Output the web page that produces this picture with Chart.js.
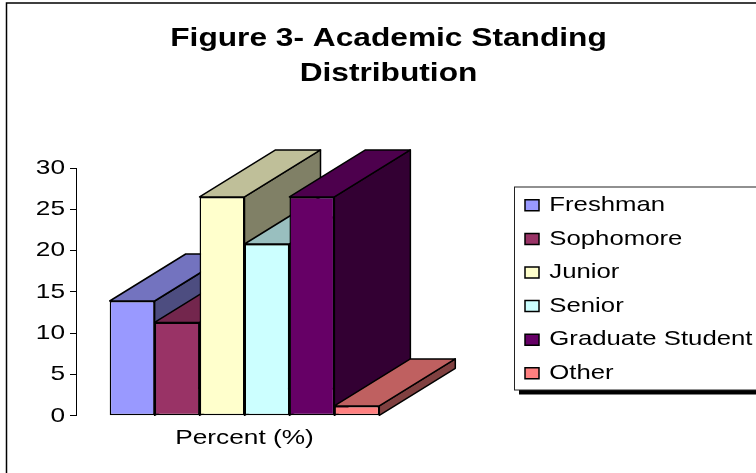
<!DOCTYPE html>
<html>
<head>
<meta charset="utf-8">
<style>
  html, body { margin: 0; padding: 0; background: #fff; overflow: hidden; }
  canvas { display: block; }
</style>
<script src="https://cdn.jsdelivr.net/npm/chart.js@4"></script>
</head>
<body>
<canvas id="myChart" width="756" height="473"></canvas>
<script>
const categories = ["Percent (%)"];
const seriesNames = ["Freshman", "Sophomore", "Junior", "Senior", "Graduate Student", "Other"];
const seriesValues = [13.9, 11.3, 26.5, 20.8, 26.5, 1.2];
const seriesColors = ["#9999FF", "#993366", "#FFFFCC", "#CCFFFF", "#660066", "#FF8080"];

const depthX = 76;
const depthY = 47;
const textStretch = 1.25; // the text in the picture is wider than the font

const shade = (hex, k) => {
  const n = parseInt(hex.slice(1), 16);
  const r = Math.round(((n >> 16) & 255) * k);
  const g = Math.round(((n >> 8) & 255) * k);
  const b = Math.round((n & 255) * k);
  return "rgb(" + r + "," + g + "," + b + ")";
};

const ctx = document.getElementById("myChart").getContext("2d");
const fillText = ctx.fillText.bind(ctx);
const measureText = ctx.measureText.bind(ctx);
ctx.fillText = (text, x, y) => {
  ctx.save();
  ctx.translate(x, y);
  ctx.scale(textStretch, 1);
  fillText(text, 0, 0);
  ctx.restore();
};
ctx.measureText = (text) => ({ width: measureText(text).width * textStretch });

const face = (c, points, color) => {
  c.beginPath();
  points.forEach((p, i) => (i ? c.lineTo(p[0], p[1]) : c.moveTo(p[0], p[1])));
  c.closePath();
  c.fillStyle = color;
  c.fill();
  c.stroke();
};

const placement = {
  id: "placement",
  afterLayout: (chart) => {
    chart.titleBlock.left = 0;
    chart.titleBlock.right = 777;
    const legend = chart.legend;
    legend.left = 525 - legend.options.labels.padding;
    legend.right = 756;
    legend.top = 195 - legend.options.labels.padding;
    legend.bottom = 440; // keeps all six entries in one column
  },
};

const frame = {
  id: "frame",
  beforeDraw: (chart) => {
    const c = chart.ctx;
    c.save();
    c.fillStyle = "#fff";
    c.fillRect(0, 0, 756, 473);
    c.strokeStyle = "#000";
    c.lineWidth = 1.5;
    c.beginPath();
    c.moveTo(756, 3);
    c.lineTo(6.5, 3);
    c.lineTo(6.5, 473);
    c.stroke();
    // legend box and its shadow
    c.fillStyle = "#000";
    c.fillRect(519, 390, 237, 4.5);
    c.lineWidth = 1;
    c.strokeStyle = "#222";
    c.strokeRect(514.5, 187, 260, 203);
    c.restore();
  },
};

const depth = {
  id: "depth",
  beforeDatasetsDraw: (chart) => {
    const c = chart.ctx;
    c.save();
    c.strokeStyle = "#000";
    c.lineWidth = 1.5;
    c.lineJoin = "round";
    chart.data.datasets.forEach((ds, i) => {
      const bar = chart.getDatasetMeta(i).data[0];
      const left = bar.x - bar.width / 2;
      const right = bar.x + bar.width / 2;
      face(c, [[right, bar.y], [right + depthX, bar.y - depthY], [right + depthX, bar.base - depthY], [right, bar.base]], shade(seriesColors[i], 0.5));
      face(c, [[left, bar.y], [left + depthX, bar.y - depthY], [right + depthX, bar.y - depthY], [right, bar.y]], shade(seriesColors[i], 0.75));
    });
    c.restore();
  },
};

new Chart(ctx, {
  type: "bar",
  data: {
    labels: categories,
    datasets: seriesNames.map((name, i) => ({
      label: name,
      data: [seriesValues[i]],
      backgroundColor: seriesColors[i],
      borderColor: "#000",
      borderWidth: 1.5,
      borderSkipped: false,
      categoryPercentage: 0.8,
      barPercentage: 1,
    })),
  },
  options: {
    responsive: false,
    animation: false,
    layout: { padding: { left: 0, right: 343, top: 0, bottom: 20 } },
    plugins: {
      tooltip: { enabled: false },
      title: {
        display: true,
        text: ["Figure 3- Academic Standing", "Distribution"],
        color: "#000",
        font: { family: "'Liberation Sans', Arial, sans-serif", size: 25.35, weight: "bold", lineHeight: 1.381 },
        padding: { top: 21, bottom: 77 },
      },
      legend: {
        position: "chartArea",
        align: "start",
        labels: {
          color: "#000",
          boxWidth: 14,
          boxHeight: 11,
          padding: 13,
          font: { family: "'Liberation Sans', Arial, sans-serif", size: 20.6 },
        },
      },
    },
    scales: {
      x: {
        grid: { display: false },
        border: { display: false },
        ticks: { color: "#000", padding: 2, font: { family: "'Liberation Sans', Arial, sans-serif", size: 21 } },
      },
      y: {
        min: 0,
        max: 30,
        afterFit: (scale) => {
          scale.width = 76;
        },
        grid: { drawOnChartArea: false, drawTicks: true, tickLength: 6, color: "#000" },
        border: { display: true, color: "#000" },
        ticks: { stepSize: 5, color: "#000", padding: 5, font: { family: "'Liberation Sans', Arial, sans-serif", size: 21 } },
      },
    },
  },
  plugins: [frame, depth, placement],
});
</script>
</body>
</html>
